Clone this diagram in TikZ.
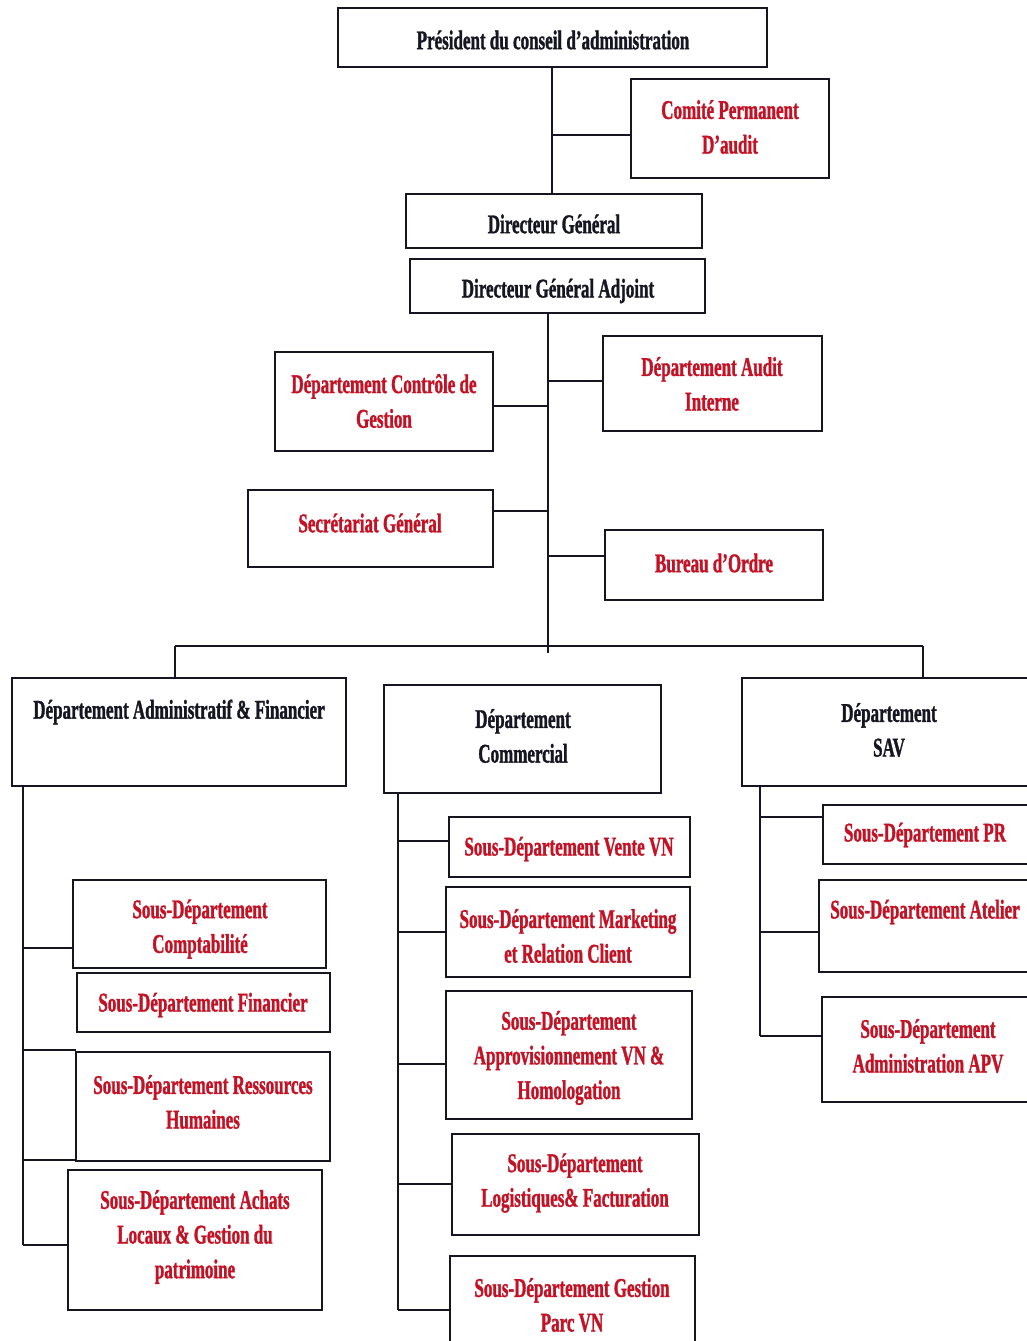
\documentclass[tikz,border=0pt]{standalone}
\usepackage{fontspec}
\setmainfont{Liberation Serif}[FakeStretch=0.63, BoldFeatures={FakeBold=1.2}]
\definecolor{orgred}{RGB}{196,18,36}
\definecolor{orgdark}{RGB}{22,22,34}
\newcommand\orgbox[5]{\node[box, minimum width={(#4-#2)*0.75pt}, minimum height={(#5-#3)*0.75pt}] (#1) at ({(#2+#4)/2},{(#3+#5)/2}) {};}
\begin{document}
\begin{tikzpicture}[x=0.75pt,y=-0.75pt,
  box/.style={draw=orgdark, line width=1.5pt, inner sep=0pt},
  lbl/.style={font=\bfseries\fontsize{20.25}{26}\selectfont, align=center, inner sep=0pt, text=orgdark, yshift=-1.5pt},
  rlbl/.style={lbl, text=orgred},
  conn/.style={draw=orgdark, line width=1.5pt}]
\useasboundingbox (0,0) rectangle (1027,1341);
\clip (0,0) rectangle (1027,1341);

% ---- boxes ----
\orgbox{pres}{338}{8}{767}{67}
\orgbox{com}{631}{79}{829}{178}
\orgbox{dg}{406}{194}{702}{248}
\orgbox{dga}{410}{259}{705}{313}
\orgbox{cg}{275}{352}{493}{451}
\orgbox{ai}{603}{336}{822}{431}
\orgbox{sec}{248}{490}{493}{567}
\orgbox{bo}{605}{530}{823}{600}
\orgbox{daf}{12}{678}{346}{786}
\orgbox{dc}{384}{685}{661}{793}
\orgbox{sav}{742}{678}{1040}{786}
\orgbox{comp}{73}{880}{326}{968}
\orgbox{fin}{77}{973}{330}{1032}
\orgbox{rh}{76}{1052}{330}{1161}
\orgbox{ach}{68}{1170}{322}{1310}
\orgbox{vente}{449}{817}{690}{877}
\orgbox{mkt}{446}{887}{690}{977}
\orgbox{appro}{446}{991}{692}{1119}
\orgbox{log}{452}{1134}{699}{1235}
\orgbox{parc}{450}{1256}{695}{1360}
\orgbox{pr}{823}{805}{1040}{864}
\orgbox{atel}{819}{880}{1040}{972}
\orgbox{apv}{822}{997}{1040}{1102}

% ---- texts ----
\node[lbl]  (tpres)  at (553,38)   {Président du conseil d’administration};
\node[rlbl] (tcom)   at (730,125)  {Comité Permanent\\D’audit};
\node[lbl]  (tdg)    at (554,222)  {Directeur Général};
\node[lbl]  (tdga)   at (558,289)  {Directeur Général Adjoint};
\node[rlbl] (tcg)    at (384,399)  {Département Contrôle de\\Gestion};
\node[rlbl] (tai)    at (712,382)  {Département Audit\\Interne};
\node[rlbl] (tsec)   at (370,521)  {Secrétariat Général};
\node[rlbl] (tbo)    at (714,561)  {Bureau d’Ordre};
\node[lbl]  (tdaf)   at (179,710)  {Département Administratif \& Financier};
\node[lbl]  (tdc)    at (523,734)  {Département\\Commercial};
\node[lbl]  (tsav)   at (889,728)  {Département\\SAV};
\node[rlbl] (tcomp)  at (200,927)  {Sous-Département\\Comptabilité};
\node[rlbl] (tfin)   at (203,1003) {Sous-Département Financier};
\node[rlbl] (trh)    at (203,1100) {Sous-Département Ressources\\Humaines};
\node[rlbl] (tach)   at (195,1235) {Sous-Département Achats\\Locaux \& Gestion du\\patrimoine};
\node[rlbl] (tvente) at (569,847)  {Sous-Département Vente VN};
\node[rlbl] (tmkt)   at (568,934)  {Sous-Département Marketing\\et Relation Client};
\node[rlbl] (tappro) at (569,1056) {Sous-Département\\Approvisionnement VN \&\\Homologation};
\node[rlbl] (tlog)   at (575,1181) {Sous-Département\\Logistiques\& Facturation};
\node[rlbl] (tparc)  at (572,1303) {Sous-Département Gestion\\Parc VN};
\node[rlbl] (tpr)    at (925,833)  {Sous-Département PR};
\node[rlbl] (tatel)  at (925,910)  {Sous-Département Atelier};
\node[rlbl] (tapv)   at (928,1044) {Sous-Département\\Administration APV};

% ---- junction coordinates ----
\coordinate (j0) at (552,135);
\coordinate (s0) at (548,653);
\coordinate (bcg) at (548,406);
\coordinate (bai) at (548,381);
\coordinate (bsec) at (548,511);
\coordinate (bbo) at (548,556);
\coordinate (hl) at (175,646);
\coordinate (hr) at (923,646);
\coordinate (l1) at (23,948);
\coordinate (l2) at (23,1050);
\coordinate (l3) at (23,1160);
\coordinate (l4) at (23,1245);
\coordinate (c1) at (398,841);
\coordinate (c2) at (398,932);
\coordinate (c3) at (398,1064);
\coordinate (c4) at (398,1184);
\coordinate (c5) at (398,1310);
\coordinate (v1) at (760,817);
\coordinate (v2) at (760,932);
\coordinate (v3) at (760,1036);

% ---- connectors ----
\path[conn] (pres.south -| j0) -- (j0 |- dg.north);
\path[conn] (j0) -- (j0 -| com.west);
\path[conn] (dga.south -| s0) -- (s0);
\path[conn] (bcg) -- (bcg -| cg.east);
\path[conn] (bai) -- (bai -| ai.west);
\path[conn] (bsec) -- (bsec -| sec.east);
\path[conn] (bbo) -- (bbo -| bo.west);
\path[conn] (hl) -- (hr);
\path[conn] (hl) -- (hl |- daf.north);
\path[conn] (hr) -- (hr |- sav.north);

\path[conn] (daf.south -| l1) -- (l4);
\path[conn] (l1) -- (l1 -| comp.west);
\path[conn] (l2) -- (l2 -| fin.west);
\path[conn] (l3) -- (l3 -| rh.west);
\path[conn] (l4) -- (l4 -| ach.west);

\path[conn] (dc.south -| c1) -- (c5);
\path[conn] (c1) -- (c1 -| vente.west);
\path[conn] (c2) -- (c2 -| mkt.west);
\path[conn] (c3) -- (c3 -| appro.west);
\path[conn] (c4) -- (c4 -| log.west);
\path[conn] (c5) -- (c5 -| parc.west);

\path[conn] (sav.south -| v1) -- (v3);
\path[conn] (v1) -- (v1 -| pr.west);
\path[conn] (v2) -- (v2 -| atel.west);
\path[conn] (v3) -- (v3 -| apv.west);
\end{tikzpicture}
\end{document}
